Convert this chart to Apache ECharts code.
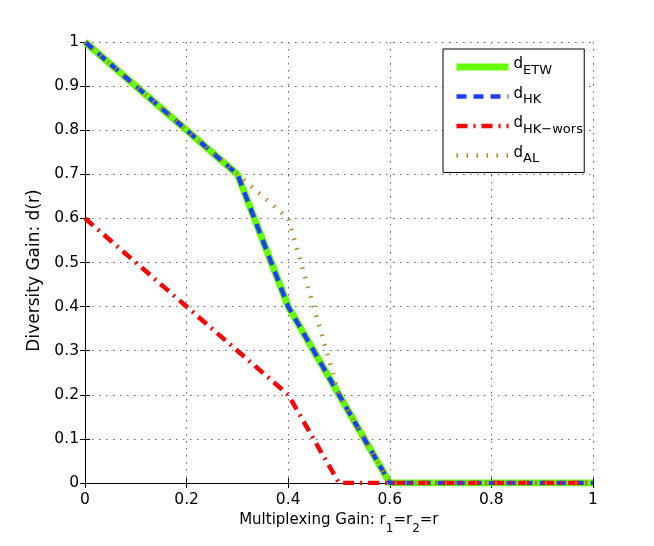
<!DOCTYPE html>
<html>
<head>
<meta charset="utf-8">
<script src="https://cdn.jsdelivr.net/npm/echarts@6/dist/echarts.min.js"></script>
<style>
  html, body { margin: 0; padding: 0; background: #fff; }
  #chart { width: 654px; height: 546px; }
</style>
</head>
<body>
<div id="chart"></div>
<script>
// 曲线数据 (r, d(r))
const etwX = [0, 0.3, 0.4, 0.6, 1];
const etwY = [1, 0.7, 0.4, 0, 0];
const hkX = [0, 0.3, 0.4, 0.6, 1];
const hkY = [1, 0.7, 0.4, 0, 0];
const worsX = [0, 0.3, 0.4, 0.5, 1];
const worsY = [0.6, 0.3, 0.2, 0, 0];
const alX = [0, 0.3, 0.4, 0.5, 0.6, 1];
const alY = [1, 0.7, 0.6, 0.2, 0, 0];

// 图例下标
const legendSubs = ['ETW', 'HK', 'HK\u2212wors', 'AL'];

const FONT = 'DejaVu Sans';

function pairs(xs, ys) {
    return xs.map((x, i) => [x, ys[i]]);
}

// 各曲线样式
const lineStyles = [
    { color: '#66ff00', width: 7, type: 'solid' },
    { color: '#1f3dff', width: 4.5, type: [10, 7] },
    { color: '#ff0000', width: 4.5, type: [11, 6, 2, 6] },
    { color: '#b8862b', width: 4.5, type: [1.5, 8.5] }
];
const seriesData = [pairs(etwX, etwY), pairs(hkX, hkY), pairs(worsX, worsY), pairs(alX, alY)];

const chart = echarts.init(document.getElementById('chart'));

const axisCommon = {
    type: 'value',
    min: 0,
    max: 1,
    axisLine: { show: true, lineStyle: { color: '#000', width: 1 } },
    axisTick: { show: true, inside: true, length: 5, lineStyle: { color: '#000' } },
};

const option = {
    animation: false,
    backgroundColor: '#fff',
    grid: { left: 85, right: 61, top: 42, bottom: 63 },
    legend: {
        orient: 'vertical',
        left: 443,
        top: 49,
        padding: [8, 1, 7, 10],
        itemGap: 9.5,
        itemWidth: 52,
        itemHeight: 14,
        borderColor: '#000',
        borderWidth: 1,
        backgroundColor: '#fff',
        itemStyle: { opacity: 0 },
        data: legendSubs.map((name, i) => ({
            name: name,
            lineStyle: Object.assign({}, lineStyles[i])
        })),
        formatter: name => '{d|d}{s|' + name + '}{h| }',
        textStyle: {
            fontFamily: FONT,
            color: '#000',
            rich: {
                d: { fontFamily: FONT, fontSize: 15, lineHeight: 19, verticalAlign: 'top', color: '#000' },
                s: { fontFamily: FONT, fontSize: 13, lineHeight: 6, verticalAlign: 'bottom', color: '#000' },
                h: { fontFamily: FONT, fontSize: 1, lineHeight: 20 }
            }
        }
    },
    xAxis: [
        Object.assign({}, axisCommon, {
            position: 'bottom',
            interval: 0.2,
            name: '{n|Multiplexing Gain: r}{s|1}{n|=r}{s|2}{n|=r}{h| }',
            nameLocation: 'middle',
            nameGap: 28,
            nameTextStyle: {
                rich: {
                    n: { fontFamily: FONT, fontSize: 15, lineHeight: 16, verticalAlign: 'top', color: '#000' },
                    s: { fontFamily: FONT, fontSize: 12, lineHeight: 6, verticalAlign: 'bottom', color: '#000' },
                    h: { fontFamily: FONT, fontSize: 1, lineHeight: 22 }
                }
            },
            axisLabel: { fontFamily: FONT, fontSize: 15.5, color: '#000', margin: 9 },
            splitLine: { show: true, lineStyle: { color: '#666', width: 1, type: [1.5, 5.5] } }
        }),
        Object.assign({}, axisCommon, {
            position: 'top',
            interval: 0.2,
            axisLabel: { show: false },
            splitLine: { show: false }
        })
    ],
    yAxis: [
        Object.assign({}, axisCommon, {
            position: 'left',
            interval: 0.1,
            name: 'Diversity Gain: d(r)',
            nameLocation: 'middle',
            nameGap: 39,
            nameTextStyle: { fontFamily: FONT, fontSize: 17, color: '#000', padding: [0, 16, 0, 0] },
            axisLabel: { fontFamily: FONT, fontSize: 15.5, color: '#000', margin: 6 },
            splitLine: { show: true, lineStyle: { color: '#666', width: 1, type: [1.5, 5.5] } }
        }),
        Object.assign({}, axisCommon, {
            position: 'right',
            interval: 0.1,
            axisLabel: { show: false },
            splitLine: { show: false }
        })
    ],
    series: legendSubs.map((name, i) => ({
        name: name,
        type: 'line',
        data: seriesData[i],
        symbol: 'none',
        lineStyle: lineStyles[i],
        itemStyle: { color: lineStyles[i].color }
    }))
};

chart.setOption(option);
</script>
</body>
</html>
